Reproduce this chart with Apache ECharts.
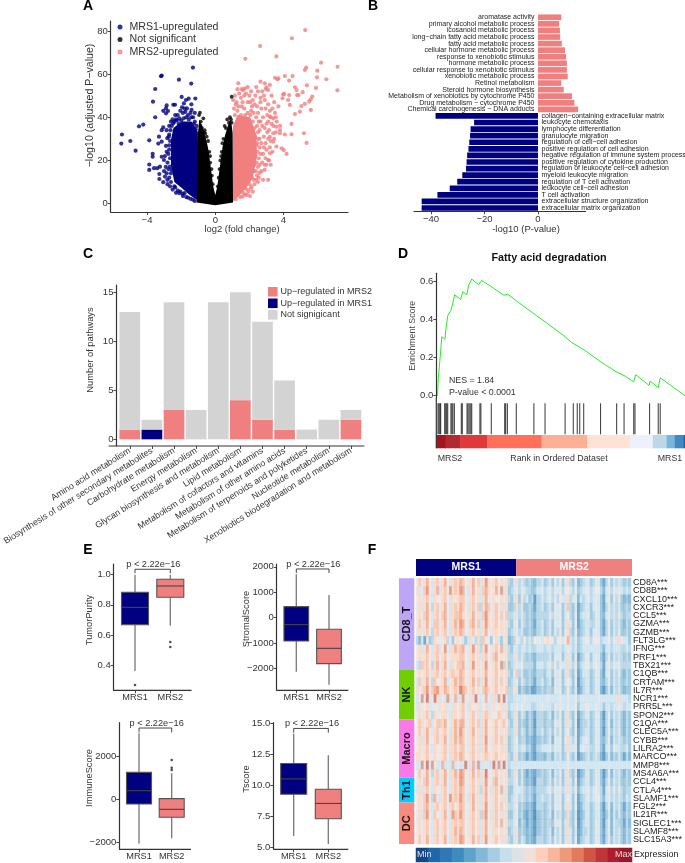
<!DOCTYPE html>
<html><head><meta charset="utf-8">
<style>html,body{margin:0;padding:0;background:#fff}#c{width:685px;height:863px}#c canvas{filter:blur(.4px)}</style>
<script src="https://cdn.jsdelivr.net/npm/echarts@6/dist/echarts.min.js"></script>
</head><body><div id="c"></div>
<script>
// ---------- Panel A: volcano (x = log2 fold change, y = -log10 adjusted p)
const volcanoNames=['MRS1-upregulated','Not significant','MRS2-upregulated'];
const blueDense=[[-1.02,1.4],[-1.5,4],[-2,7.5],[-2.4,10],[-2.6,18],[-2.6,29.5],[-2.45,35],[-1.97,38],[-1.39,38],[-1.02,33.3]];
const blackDense=[[-1.09,.5],[-1.05,29.5],[-.94,39],[-.74,35.2],[-.51,29],[-.39,24.4],[-.27,17.1],[-.12,7.9],[0,4],[.12,7.9],[.27,17.1],[.43,26.4],[.57,31.6],[.76,36.7],[.92,39],[1.02,32.6],[1.04,.5],[0,-.8]];
const pinkDense=[[1.04,1.1],[1.4,3.6],[1.8,7],[2.2,12],[2.45,22],[2.4,32],[2.05,40],[1.3,41],[1.04,36]];
const bluePoints=[[-1.31,63],[-1.41,55.6],[-2.13,57.4],[-3.14,59.3],[-3.18,59],[-3.52,53.1],[-3.65,47.2],[-2.85,45.5],[-2.89,44.1],[-3.05,43],[-2.46,45.8],[-2.36,45.8],[-3.52,40],[-2.89,41.8],[-2.77,42.9],[-1.97,49.4],[-1.72,48],[-1.56,48.6],[-1.17,48.7],[-1.84,46.4],[-1.95,44.6],[-1.66,44.1],[-1.39,43.4],[-4.22,36.6],[-4.47,35.8],[-5.47,32],[-5.51,27.8],[-4.98,29],[-4.67,24.5],[-3.87,29.3],[-3.3,31],[-3.14,34],[-3.05,35.3],[-2.85,34],[-3.14,28.7],[-2.81,30.3],[-3.67,23.1],[-3.34,27.8],[-2.89,26.7],[-3.87,18.1],[-3.67,21.7],[-3.14,21.7],[-3.87,15.6],[-3.59,16.4],[-3.4,16.4],[-3.24,17.1],[-3.28,13.7],[-3.28,11.4],[-3.05,9.9],[-2.95,12.5],[-2.81,11],[-3.01,20.2],[-2.66,17.1],[-2.56,15.6],[-2.46,21],[-2.46,37.2],[-2.7,12],[-2.75,16],[-2.8,19],[-2.75,23],[-2.7,27],[-2.85,24],[-2.95,22],[-2.7,32],[-2.7,36],[-2.6,38],[-2.5,39],[-2.3,39],[-2.2,41],[-2.05,43],[-1.9,42],[-1.75,42.5],[-1.6,41],[-1.45,42],[-1.3,40],[-1.2,38],[-1.1,36],[-2.4,8],[-2.2,6],[-1.9,4.5],[-1.6,2.8],[-1.3,1.8],[-2.6,10],[-2.85,14],[-2.6,14],[-1.2,42],[-1.4,46],[-2.8,9],[-2.5,6.5],[-2.3,5],[-2.1,4.8],[-1.9,3.5],[-1.7,3],[-1.45,2.2],[-1.2,1.2],[-2.9,17],[-3,15],[-2.65,8],[-2.35,7.5],[-2.05,5.6],[-1.8,4.8],[-2.65,21],[-2.7,25],[-2.65,29],[-2.72,31],[-2.62,34],[-2.55,36],[-2.4,38],[-2.25,38.5],[-2.1,39.5],[-2,38.5],[-1.85,39.5],[-1.7,40],[-1.55,39],[-1.4,40],[-1.25,37],[-1.15,34.5],[-2.35,41],[-1.8,44],[-2.15,37]];
const blackPoints=[[.96,49.5],[-.9,42.1],[-.95,41],[-.7,39.5],[-.86,36],[-.78,35],[-.67,33],[-.59,32.5],[-.9,31.5],[.86,40],[.92,39],[.96,37.5],[-.35,24],[-.42,29],[-.2,13],[-.15,9],[-.3,19],[.3,20],[.2,12],[.38,24],[.48,30],[.15,8],[.55,36],[.7,39],[-.85,38],[-.62,34],[-.5,31],[-.3,22],[-.22,16],[.25,16],[.34,22],[.42,28],[.62,35],[.8,37.5]];
const pinkPoints=[[5.27,80.4],[4.49,76.6],[2.63,73],[1.76,67.1],[3.58,68.2],[6.2,65.3],[7.17,63.4],[5.33,63],[5.25,61.9],[5.98,61.6],[5.96,58.5],[6.51,57.6],[7.16,52.5],[5.9,53.6],[5.37,54.8],[4.08,59.1],[4.33,57],[4.53,59.1],[3.5,58.3],[3.64,57.6],[3.7,58],[2.65,56.5],[2.9,55.7],[3.2,55],[3,53.9],[3.1,52.6],[2.97,53],[1.35,55.7],[1.73,53.4],[1.63,52.6],[3.98,50.6],[4.33,50.3],[4.67,53.9],[4.77,52.6],[4.8,50.3],[4.88,50.3],[5.12,51.6],[5.68,49.6],[5.59,48.3],[5.51,47.2],[5.25,46.2],[5.05,45.2],[5.6,43.4],[4.96,42.6],[4.67,41.5],[4.47,36.9],[4.47,32.1],[5.2,32.6],[5.35,28.1],[4.04,50.8],[3.94,48.8],[4.27,48],[4.37,45.7],[4.08,32],[3.79,32.6],[3.89,25.6],[4.18,23],[4.02,24.8],[3.2,40.3],[3.4,39.5],[3.58,35.6],[3.79,34],[3.4,32.6],[3.2,30.9],[3.4,28.7],[3.58,26.4],[3.2,23.3],[3.1,20.2],[2.8,11],[3.1,11],[2.9,15.6],[2.6,14.2],[2.4,11],[1.84,4],[2.03,3.5],[2.13,7.8],[2.45,13],[2.5,17],[2.55,21],[2.6,26],[2.5,30],[2.6,34],[2.55,38],[2.5,42],[2.45,45],[2.7,15],[2.75,19],[2.8,23],[2.7,28],[2.85,31],[2.75,36],[2.8,40],[2.7,44],[2.65,47],[2.9,18],[2.95,21],[3,25],[2.95,28],[3.05,33],[3,37],[3.05,41],[2.95,44],[2.9,48],[3.15,20],[3.2,26],[3.25,29],[3.15,34],[3.3,37],[3.2,43],[3.1,46],[3.35,44],[3.45,47],[3.3,50],[3.5,42],[3.6,38],[3.7,45],[3.8,36],[3.35,24],[3.45,30],[3.55,33],[2.3,9],[2.5,10],[2.2,48],[2,50],[1.8,51],[1.5,49],[1.25,47],[1.6,47],[1.9,47],[2.15,45],[2.35,50],[2.5,52],[2.65,49],[2.85,50],[1.2,46],[1.4,51],[2.2,5.5],[1.6,3.2],[1.15,41],[1.3,43],[1.5,41],[1.7,44],[1.9,42],[2.05,41],[2.2,38],[2.3,35],[2.35,31],[2.4,27],[2.35,22],[2.3,18],[2.25,15],[2.15,12],[2,9],[1.85,6.5],[1.65,5],[1.45,3],[1.2,2],[1.1,44],[1.35,45],[1.55,45],[1.75,41],[2.1,43],[2.25,42],[2.4,40],[2.45,36],[2.5,33],[2.45,28],[2.48,24],[2.42,19],[2.38,15],[2.25,11],[2.08,7],[1.95,5.5],[1.75,4.2],[1.05,48],[1.3,53],[1.55,53],[1.9,54],[2.1,52],[2.4,54],[2.75,52],[1.15,50],[1.7,50],[2.05,47],[2.3,46],[3.1,30],[3.25,18],[3,18],[2.85,26],[2.9,35],[3.1,38],[3.25,40],[3.4,36],[3.55,40],[2.65,38],[2.6,30],[2.65,23],[2.6,18],[2.55,12]];

// ---------- Panel B: enrichment bars
const enrichUpNames=['aromatase activity','primary alcohol metabolic process','icosanoid metabolic process','long−chain fatty acid metabolic process','fatty acid metabolic process','cellular hormone metabolic process','response to xenobiotic stimulus','hormone metabolic process','cellular response to xenobiotic stimulus','xenobiotic metabolic process','Retinol metabolism','Steroid hormone biosynthesis','Metabolism of xenobiotics by cytochrome P450','Drug metabolism − cytochrome P450','Chemical carcinogenesis − DNA adducts'];
const enrichUpValues=[8.7,7.9,8.2,8.3,8.9,10.1,10.5,10.8,10.8,11.1,8.7,9.6,12.7,13.6,15];
const enrichDownNames=['collagen−containing extracellular matrix','leukocyte chemotaxis','lymphocyte differentiation','granulocyte migration','regulation of cell−cell adhesion','positive regulation of cell adhesion','negative regulation of immune system process','positive regulation of cytokine production','regulation of leukocyte cell−cell adhesion','myeloid leukocyte migration','regulation of T cell activation','leukocyte cell−cell adhesion','T cell activation','extracellular structure organization','extracellular matrix organization'];
const enrichDownValues=[-38.3,-23.9,-25.2,-25.4,-25.7,-26,-26.5,-26.7,-26.9,-28.3,-30.2,-33,-37.6,-43.5,-43.5];

// ---------- Panel C: pathways
const pathwayNames=['Amino acid metabolism','Biosynthesis of other secondary metabolites','Carbohydrate metabolism','Energy metabolism','Glycan biosynthesis and metabolism','Lipid metabolism','Metabolism of cofactors and vitamins','Metabolism of other amino acids','Metabolism of terpenoids and polyketides','Nucleotide metabolism','Xenobiotics biodegradation and metabolism'];
const pathUpMRS2=[1,0,3,0,0,4,2,1,0,0,2];
const pathUpMRS1=[0,1,0,0,0,0,0,0,0,0,0];
const pathNotSig=[12,1,11,3,14,11,10,5,1,2,1];

// ---------- Panel D: GSEA (x = rank in percent of ordered list)
const gseaCurve=[[.1,0],[.4,.09],[1,.178],[1.4,.243],[1.8,.309],[3.1,.295],[3.4,.34],[4.2,.419],[5.4,.445],[6.1,.475],[7,.529],[9.4,.505],[10.3,.545],[11.9,.529],[12.7,.58],[13.9,.611],[16.7,.581],[17.9,.604],[21.8,.571],[26.9,.526],[28.4,.532],[31.9,.497],[50.7,.318],[54.2,.279],[59.6,.237],[65.7,.18],[72.4,.124],[75.8,.103],[79.3,.073],[80.1,.11],[85.5,.054],[85.9,.077],[89.2,.042],[90,.094],[100,0]];
const gseaHits=[.29,.69,1.1,1.36,2.97,3.4,3.8,4.2,5.5,5.9,6.3,6.9,9.7,10.1,12,12.4,12.9,13.5,13.9,17.2,17.6,21.8,27.2,27.6,28.3,31.9,39,43.5,51.6,54.9,56.5,57.5,59.1,65.9,72.4,75.4,79.3,79.8,85.7,89.2,90];
const gseaBandStart=[0,3.7,9.6,20.4,42.3,60.7,77.9,87,92.6,95.9,99.5];
const gseaBandEnd=[3.7,9.6,20.4,42.3,60.7,77.9,87,92.6,95.9,99.5,100];
const gseaBandColors=['#a5141c','#b22a30','#e0393a','#fe7057','#fdb094','#fee2d4','#eef0fb','#bcd8e8','#79b6dc','#4189c1','#1f5fa8'];

// ---------- Panel E: box plots [low whisker, q1, median, q3, high whisker]
const boxGroups=['MRS1','MRS2'];
const tumorPurity=[[.36,.668,.783,.883,1.0],[.66,.85,.925,.97,1.0]];
const tumorOutliers=[['MRS1',.267],['MRS2',.553],['MRS2',.52]];
const stromalScore=[[-2125,-918,-275,433,1705],[-2636,-1810,-1207,-459,892]];
const immuneScore=[[-2078,-219,406,1266,3094],[-1828,-844,-469,31,1219]];
const immuneOutliers=[['MRS2',1844],['MRS2',1484],['MRS2',1375]];
const tScore=[[5.93,9.29,10.52,11.75,14.15],[5.29,7.32,8.55,9.69,12.41]];

// ---------- Panel F: heat map; one character per sample, level 0..h on the colour bar
const heatGenes=['CD8A***','CD8B***','CXCL10***','CXCR3***','CCL5***','GZMA***','GZMB***','FLT3LG***','IFNG***','PRF1***','TBX21***','C1QB***','CRTAM***','IL7R***','NCR1***','PRR5L***','SPON2***','C1QA***','CLEC5A***','CYBB***','LILRA2***','MARCO***','MMP8***','MS4A6A***','CCL4***','CTLA4***','SLAMF1***','FGL2***','IL21R***','SIGLEC1***','SLAMF8***','SLC15A3***'];
const heatMRS1=["9b8ac97ab8 ac97abacb9 8ac9b7ada8 ab9a8a657","a78bd97ac7 ab8dabadc8 7ac9a7bca9 ac8d7a567","9a8ab87a99 ab97a9abb8 8ab9a7ac98 a99a8a657","8a7ac86ab8 ac87abacb9 7ab8b6acb8 ab8a7a556","9a8bc97ab9 bc97abbca9 8ac8a7bda8 ab9b8b667","9b8ac97bb8 ac97acadc9 8bc9b7ada9 ab9a8a657","8a8ab86ab9 ab87abacb8 8ab9a7ac98 aa9a8a567","6473856a98 9a6859a975 7a86a6b985 9a758a456","9a7ac97ab7 9d87acabc8 8ad8a6ad98 ab9c7a657","9a8ab97ab9 ab98aaabb9 8ab9a7ab98 bc9a8a667","76bab96ac8 ac87a9bbc8 8ad9a8ad98 ab8d6a567","9a9ab8aab9 ab9abaacb9 9ab9a8ac99 ab9a9a658","7b8ac86b99 ac78acacb9 8ac8b7ad98 ab8b8a567","a8abd9bcda acb9abaecb 9ab9a8bca9 ab9a9b668","78d7e78ea7 87d78c77d8 8a7e878c87 a7d8e7667","7a89a7888a 9a787a9ab8 7a98a79a78 a98a7a677","8a8ab86a98 aa87aa9ab8 8ab8a7aba8 99ba8a567","9ba8ab79bb ac98acacc8 9ab9b7ac99 ab9ab9657","9b8ac97ab9 ab97acadb9 8ac9a7ac99 ab8a8a667","8a7ac89ab8 ac97acacb9 8ab9a7ad98 ab9b8a567","9a8ab87a99 ab8aab9bb8 8ab8a7ac98 aa9a7a567","aa9ab98a99 ab97abacb9 9ab9a8aba9 ab9a9a657","77d7e7d877 c777c7877e 77c7d77877 e7d7e7677","8b8ac86ab8 ac97acadc9 8ac9b7ae98 ab8a8a567","8a8bc97ab8 ac87abadc9 8ab9a7ad98 bc8a8a667","7a7ab87a98 ab87abacb8 8ab8a6ac97 ab8c7a557","9a8bd86c87 ab8dabadb8 7ac8a7ac98 ab9a7a567","9a8bc87ab9 ab8ab9acb8 9ac8a7ad98 ab8b8a667","8a7bd87b98 ac87dbadb8 8ab9a6bd97 ab8a7a557","8a8ab97ab9 ab97ababb9 8ab9a7ac98 ab8c8a667","9a8ab87ab8 ab97acacb9 8ab9a7ac98 aa9a8a567","9b8ac97ab9 ac87abadc9 8ac9b7ad98 ab9a7a657"];
const heatMRS2=["a676565466 7567586857 a658456775 6875368576 76565","8687665577 8678687868 9768567886 7986478687 87676","a586756266 7678686977 a678476786 7875378586 85454","a675565366 7567587857 b657356775 7875368676 75565","7676565466 6668687857 9658367785 6875478676 86566","9576565366 7567587857 a758356776 6875368576 75465","8675565466 7567586858 a658456775 7875368576 85565","9769676988 79a9868979 c768567986 8986779687 a8775","7677676677 7677677767 8767567777 7776477677 76676","a676565466 6667587857 a758356885 7875368576 76565","8786666477 7678696877 a768467886 7976378687 86666","b675565466 6577587857 a658357775 6875378576 85465","8576565366 7567487857 9758256775 6875468576 75565","a465453355 6566587856 9657346775 6874257476 75455","7778777777 7787777877 8778677777 7787777777 a7776","8787776677 8777687877 8778577887 7877577677 87677","a576465366 6567476857 a658356775 6875268576 75465","a565465266 6566587857 a758256675 6875368476 75465","a576465366 7567586857 9658356775 6875268576 85465","9566454355 6567487858 a768367875 6875468476 76565","8677564366 7778687857 a778378776 6875378587 76675","a565354255 5466476756 9657245675 6764257465 75364","7777777777 7777777777 8777777777 7777777777 77777","a575354355 6567476857 a657245775 6875258476 75465","9575454266 6567586857 a758356775 6875368576 75565","8776565466 6678687867 a768467786 7976378686 86566","8676565366 7667587857 9758356786 7886478676 76576","9565454266 6567587857 a758346775 6875268476 75365","8564354155 6567486756 a657245775 6775357475 75465","9465354255 6566587857 a658246775 6875268476 65364","a565454255 6567476857 a757346675 6875368476 75465","a576454366 6567586857 a758356775 6875368576 75465"];
const heatPalette=['#16457f','#1f66ab','#2f77b5','#3d8bbf','#5fa3cb','#83b9d6','#a6cde2','#c6dfed','#dde2e6','#efe0d9','#fbcfb9','#f7b79c','#ee9a7a','#e37a5c','#cf5545','#c0353a','#ad1d2e','#98172b'];
const rowGroupNames=['CD8_T','NK','Macro','Th1','DC'];
const rowGroupCounts=[11,6,7,3,5];
const rowGroupColors=['#bfa5f5','#6fcf00','#fb78e8','#00cdff','#f98a80'];
const colGroupCounts=[39,45];

// ---------- Build
const NAVY='#000080',PINK='#f08080',GRAY='#d3d3d3',INK='#333',FF='"Liberation Sans",Arial,sans-serif';
const grid=[],xAxis=[],yAxis=[],series=[],graphic=[];
const minusFmt=v=>String(v).replace('-','−');
const text=(t,x,y,o={})=>graphic.push({type:'text',x,y,rotation:(o.rot||0)*Math.PI/180,silent:true,z:50,style:{text:t,fontFamily:FF,fontSize:o.size||9,fontWeight:o.bold?'bold':'normal',fill:o.color||INK,textAlign:o.align||'center',textVerticalAlign:'middle'}});
const hline=(x1,x2,y)=>graphic.push({type:'line',silent:true,z:40,shape:{x1,y1:y,x2,y2:y},style:{stroke:INK,lineWidth:1.2}});
const axisBase=()=>({axisLine:{show:true,onZero:false,lineStyle:{color:INK,width:1.2}},axisTick:{show:true,length:3,lineStyle:{color:INK,width:.9}},axisLabel:{fontFamily:FF,fontSize:9.5,color:INK,margin:3,hideOverlap:false},splitLine:{show:false}});
function merge(a,b){const r=Object.assign({},a);for(const k in b){r[k]=(b[k]&&typeof b[k]==='object'&&!Array.isArray(b[k])&&a[k])?merge(a[k],b[k]):b[k];}return r;}
const ticksAt=(vals,fmt)=>({axisTick:{customValues:vals},axisLabel:{customValues:vals,formatter:fmt||minusFmt}});
function addGrid(left,top,width,height,xo,yo){const i=grid.length;grid.push({left,top,width,height,containLabel:false});
  xAxis.push(xo===null?{gridIndex:i,show:false,...(xo||{})}:merge(merge(axisBase(),{gridIndex:i,position:'bottom'}),xo));
  yAxis.push(yo===null?{gridIndex:i,show:false}:merge(merge(axisBase(),{gridIndex:i}),yo));return i;}
function hiddenAxis(i,which,o){(which==='x'?xAxis:yAxis)[i]=Object.assign({gridIndex:i,show:false},o);}
const polygonSeries=(g,pts,fill,name)=>({type:'custom',name,xAxisIndex:g,yAxisIndex:g,silent:true,z:1,data:pts,encode:{x:0,y:1},renderItem:(p,api)=>p.dataIndex===0?{type:'polygon',shape:{points:pts.map(q=>api.coord(q))},style:{fill}}:null});

// A
const gA=addGrid(110.7,21,237.3,191,merge({type:'value',min:-6.13,max:7.78},ticksAt([-4,0,4])),merge({type:'value',min:-3.9,max:84.6},ticksAt([0,20,40,60,80])));
series.push(polygonSeries(gA,blueDense,NAVY,'MRS1 dense region'),polygonSeries(gA,pinkDense,PINK,'MRS2 dense region'));
[[volcanoNames[0],bluePoints,NAVY],[volcanoNames[2],pinkPoints,PINK]].forEach(([name,data,color])=>series.push({type:'scatter',name,xAxisIndex:gA,yAxisIndex:gA,data,symbolSize:4.2,itemStyle:{color},z:2,silent:true}));
series.push(Object.assign(polygonSeries(gA,blackDense,'#000','Not significant dense region'),{z:3}));
series.push({type:'scatter',name:volcanoNames[1],xAxisIndex:gA,yAxisIndex:gA,data:blackPoints,symbolSize:3.8,itemStyle:{color:'#000'},z:3,silent:true});
text('log2 (fold change)',242,229.7,{size:9.4});
text('−log10 (adjusted P−value)',90,105.5,{size:10.6,rot:90});

// B
const gB=addGrid(414,14,171.7,197.3,merge({type:'value',min:-46.36,max:17.83},ticksAt([-40,-20,0])),null);
const enrichCats=enrichUpNames.concat(enrichDownNames);
hiddenAxis(gB,'y',{type:'category',data:enrichCats,inverse:true});
const blanks=n=>Array(n).fill(null);
const barLabel=pos=>({show:true,position:pos,distance:3.5,formatter:'{b}',fontFamily:FF,fontSize:7,color:'#222'});
series.push({type:'bar',name:'Up',stack:'b',xAxisIndex:gB,yAxisIndex:gB,barWidth:5.7,data:enrichUpValues.concat(blanks(15)),itemStyle:{color:PINK},label:barLabel('left'),silent:true});
series.push({type:'bar',name:'Down',stack:'b2',barGap:'-100%',xAxisIndex:gB,yAxisIndex:gB,barWidth:5.7,data:blanks(15).concat(enrichDownValues),itemStyle:{color:NAVY},label:barLabel('right'),silent:true});
text('-log10 (P-value)',526,229,{size:9.5});

// C
const gC=addGrid(110.9,285,251.1,161,{type:'category',data:pathwayNames,axisLine:{show:false},axisTick:{alignWithLabel:true},axisLabel:{rotate:32,interval:0,fontSize:8.9,margin:4}},merge({type:'value',min:-.68,max:15.75,offset:2.3},ticksAt([0,5,10,15])));
[['Up−regulated in MRS2',pathUpMRS2,PINK],['Up−regulated in MRS1',pathUpMRS1,NAVY],['Not signigicant',pathNotSig,GRAY]].forEach(([name,data,color])=>series.push({type:'bar',name,stack:'c',xAxisIndex:gC,yAxisIndex:gC,data,barWidth:20.7,itemStyle:{color},silent:true}));
hline(108.6,364.3,446);
text('Number of pathways',90,350,{size:9.3,rot:90});

// D
const gD=addGrid(437.3,273.3,247.7,124.7,null,merge({type:'value',min:-.012,max:.641,offset:1},ticksAt([0,.2,.4,.6],v=>v.toFixed(1))));
hiddenAxis(gD,'x',{type:'value',min:0,max:100});
series.push({type:'line',name:'Enrichment Score',xAxisIndex:gD,yAxisIndex:gD,data:gseaCurve,symbol:'none',lineStyle:{color:'#22ee22',width:1},silent:true});
const gR=addGrid(437.3,403.3,247.7,31,null,null);hiddenAxis(gR,'x',{type:'value',min:0,max:100});hiddenAxis(gR,'y',{type:'value',min:0,max:1});
series.push({type:'custom',name:'Hits',xAxisIndex:gR,yAxisIndex:gR,silent:true,data:gseaHits.map(v=>[v]),encode:{x:0},renderItem:(p,api)=>{const a=api.coord([api.value(0),0]),b=api.coord([api.value(0),1]);return {type:'line',shape:{x1:a[0],y1:a[1],x2:b[0],y2:b[1]},style:{stroke:'rgba(0,0,0,.72)',lineWidth:1.1}};}});
const gBand=addGrid(436.3,435,248.7,13.3,null,null);hiddenAxis(gBand,'x',{type:'value',min:0,max:100});hiddenAxis(gBand,'y',{type:'value',min:0,max:1});
series.push({type:'custom',name:'Rank band',xAxisIndex:gBand,yAxisIndex:gBand,silent:true,data:gseaBandStart.map((s,i)=>[s,gseaBandEnd[i],i]),encode:{x:[0,1]},renderItem:(p,api)=>{const a=api.coord([api.value(0),1]),b=api.coord([api.value(1),0]);return {type:'rect',shape:{x:a[0],y:a[1],width:b[0]-a[0]+.5,height:b[1]-a[1]},style:{fill:gseaBandColors[api.value(2)]}};}});
graphic.push({type:'line',silent:true,z:40,shape:{x1:436.3,y1:398,x2:436.3,y2:448.3},style:{stroke:INK,lineWidth:1.2}});
text('Fatty acid degradation',549,257.7,{size:10.8,bold:true,color:'#111'});
text('NES = 1.84',449,381,{size:8.8,align:'left'});
text('P-value < 0.0001',449,392.7,{size:8.8,align:'left'});
text('Enrichment Score',413,335.7,{size:8.8,rot:90,color:'#444'});
text('MRS2',450,459,{size:8.8});text('Rank in Ordered Dataset',559,459,{size:8.8});text('MRS1',670,459,{size:8.8});

// E
function addBox(cfg){
  const step=cfg.c2-cfg.c1,left=cfg.c1-step/2;
  const g=addGrid(left,cfg.top,2*step,cfg.bottom-cfg.top,{type:'category',data:boxGroups,axisLine:{show:false},axisTick:{alignWithLabel:true},axisLabel:{fontSize:9.2,interval:0}},merge({type:'value',min:cfg.min,max:cfg.max,offset:left-cfg.ax},ticksAt(cfg.ticks,cfg.fmt)));
  series.push({type:'custom',name:cfg.name,xAxisIndex:g,yAxisIndex:g,silent:true,data:cfg.data.map((v,i)=>[i,...v]),encode:{x:0,y:[1,2,3,4,5]},renderItem:(p,api)=>{
    const x=api.coord([api.value(0),cfg.min])[0],Y=j=>api.coord([api.value(0),api.value(j)])[1],w=cfg.bw;
    const whisker={stroke:'#777',lineWidth:1.3},edge={fill:p.dataIndex?PINK:NAVY,stroke:'#555',lineWidth:1.1};
    return {type:'group',children:[
      {type:'line',shape:{x1:x,y1:Y(1),x2:x,y2:Y(2)},style:whisker},
      {type:'line',shape:{x1:x,y1:Y(4),x2:x,y2:Y(5)},style:whisker},
      {type:'rect',shape:{x:x-w/2,y:Y(4),width:w,height:Y(2)-Y(4)},style:edge},
      {type:'line',shape:{x1:x-w/2,y1:Y(3),x2:x+w/2,y2:Y(3)},style:{stroke:'#444',lineWidth:1.1}}]};
  }});
  if(cfg.out)series.push({type:'scatter',name:cfg.name+' outliers',xAxisIndex:g,yAxisIndex:g,silent:true,data:cfg.out,symbolSize:2.6,itemStyle:{color:'#222'}});
  series.push({type:'line',name:cfg.name+' bracket',xAxisIndex:g,yAxisIndex:g,silent:true,clip:false,symbol:'none',lineStyle:{color:INK,width:.9},data:[['MRS1',cfg.b0],['MRS1',cfg.b1],['MRS2',cfg.b1],['MRS2',cfg.b0]]});
  hline(cfg.ax,cfg.right,cfg.bottom);
  text('p < 2.22e−16',cfg.px,cfg.py,{size:9.2});
  text(cfg.name,cfg.nx,cfg.ny,{size:9.3,rot:90});
}
addBox({name:'TumorPurity',c1:135,c2:170.3,ax:113.7,right:191.5,top:564,bottom:690.3,min:.232,max:1.071,ticks:[.4,.6,.8,1],fmt:v=>v.toFixed(1),bw:27,data:tumorPurity,out:tumorOutliers,b0:1.01,b1:1.036,px:153.3,py:564,nx:89,ny:620});
addBox({name:'StromalScore',c1:296.3,c2:329,ax:276.7,right:348.3,top:564,bottom:690.3,min:-2859,max:2111,ticks:[-2000,-1000,0,1000,2000],bw:24.7,data:stromalScore,b0:1757,b1:1915,px:313.3,py:564,nx:246,ny:619});
addBox({name:'ImmuneScore',c1:139,c2:171.7,ax:119.3,right:191,top:722.7,bottom:849.3,min:-2344,max:3594,ticks:[-2000,0,2000],bw:25,data:immuneScore,out:immuneOutliers,b0:3141,b1:3344,px:156.7,py:723,nx:89,ny:778});
addBox({name:'Tscore',c1:293.7,c2:328.3,ax:273.3,right:348.3,top:722.7,bottom:849.3,min:4.87,max:15.03,ticks:[5,7.5,10,12.5,15],fmt:v=>v.toFixed(1),bw:26,data:tScore,b0:14.23,b1:14.57,px:312,py:723,nx:246,ny:779});

// F
const levelOf=c=>parseInt(c,18);
const clean=s=>s.replace(/ /g,'');
const heatCells=[];
heatGenes.forEach((g,r)=>{(clean(heatMRS1[r])+clean(heatMRS2[r])).split('').forEach((c,k)=>heatCells.push([k,r,levelOf(c)]));});
const nCols=clean(heatMRS1[0]).length+clean(heatMRS2[0]).length;
const gH=addGrid(416,578.3,216,265.7,null,{type:'category',data:heatGenes,inverse:true,position:'right',axisLine:{show:false},axisTick:{show:false},axisLabel:{fontSize:9,interval:0,margin:2,color:'#222',formatter:v=>v}});
hiddenAxis(gH,'x',{type:'category',data:Array.from({length:nCols},(_,i)=>String(i))});
series.push({type:'heatmap',name:'Expression',xAxisIndex:gH,yAxisIndex:gH,data:heatCells,silent:true,itemStyle:{borderWidth:0,opacity:.72},progressive:0});
const gCB=addGrid(416,848,216,14,null,null);
hiddenAxis(gCB,'x',{type:'category',data:heatPalette.map((_,i)=>String(i))});hiddenAxis(gCB,'y',{type:'category',data:['Expression']});
series.push({type:'heatmap',name:'Colour bar',xAxisIndex:gCB,yAxisIndex:gCB,data:heatPalette.map((_,i)=>[i,0,i]),silent:true,progressive:0});
text('Min',417,855,{size:9,align:'left',color:'#dfe8f0'});text('Max',632,855,{size:9,align:'right',color:'#f5dada'});text('Expression',634,855,{size:9,align:'left',color:'#222'});
const gTop=addGrid(416,559,216,17,null,null);
hiddenAxis(gTop,'x',{type:'value',min:0,max:nCols});hiddenAxis(gTop,'y',{type:'category',data:['Group']});
['MRS1','MRS2'].forEach((name,i)=>series.push({type:'bar',name:name+' samples',stack:'t',xAxisIndex:gTop,yAxisIndex:gTop,barWidth:17,silent:true,data:[colGroupCounts[i]],itemStyle:{color:i?PINK:NAVY},label:{show:true,position:'inside',formatter:name,color:'#fff',fontFamily:FF,fontWeight:'bold',fontSize:10.5}}));
const gSide=addGrid(399,578.3,15.3,265.7,null,null);
hiddenAxis(gSide,'x',{type:'category',data:['Set']});hiddenAxis(gSide,'y',{type:'value',min:0,max:heatGenes.length,inverse:true});
rowGroupNames.forEach((name,i)=>series.push({type:'bar',name,stack:'s',xAxisIndex:gSide,yAxisIndex:gSide,barWidth:15.3,silent:true,data:[rowGroupCounts[i]],itemStyle:{color:rowGroupColors[i]},label:{show:true,position:'inside',rotate:90,formatter:name,color:'#111',fontFamily:FF,fontWeight:'bold',fontSize:11}}));

// panel letters
[['A',88,6],['B',373,6],['C',88,254],['D',403,254],['E',88,550],['F',372,550]].forEach(([t,x,y])=>text(t,x,y,{size:14,bold:true,color:'#000'}));

const legendStyle={fontFamily:FF,color:INK};
const option={animation:false,backgroundColor:'#fff',grid,xAxis,yAxis,series,graphic,
 legend:[
  {left:117.5,top:21.5,padding:0,orient:'vertical',itemWidth:5,itemHeight:5,itemGap:1.5,icon:'circle',selectedMode:false,data:volcanoNames,textStyle:{...legendStyle,fontSize:10.6,padding:[0,0,0,2]}},
  {left:268,top:287,padding:0,orient:'vertical',itemWidth:9.6,itemHeight:9.6,itemGap:1.9,icon:'rect',selectedMode:false,data:['Up−regulated in MRS2','Up−regulated in MRS1','Not signigicant'],textStyle:{...legendStyle,fontSize:9,padding:[0,0,0,-2]}}
 ],
 visualMap:{show:false,type:'piecewise',dimension:2,seriesIndex:series.map((s,i)=>s.type==='heatmap'?i:-1).filter(i=>i>=0),pieces:heatPalette.map((color,i)=>({value:i,color}))}
};
echarts.init(document.getElementById('c'),null,{renderer:'canvas'}).setOption(option);
</script></body></html>
